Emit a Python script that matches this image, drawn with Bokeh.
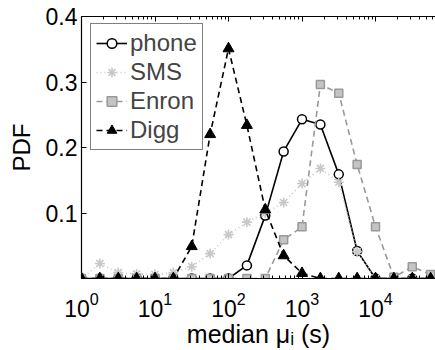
from bokeh.plotting import figure
from bokeh.models import (Range1d, FixedTicker, LogAxis, ColumnDataSource,
                          CustomJSTickFormatter)
from bokeh.embed import file_html
from bokeh.resources import INLINE

# ---- data ----
bin_centers = [1, 1.778, 3.162, 5.623, 10, 17.78, 31.62, 56.23, 100, 177.8,
               316.2, 562.3, 1000, 1778, 3162, 5623, 10000, 17783, 31623, 56234]
phone = [0, 0, 0, 0, 0, 0, 0, 0, 0, 0.020, 0.096, 0.194, 0.243, 0.235, 0.159,
         0.042, 0, 0, 0, 0]
sms = [0, 0.023, 0.009, 0.007, 0.006, 0.009, 0.018, 0.038, 0.067, 0.086, 0.100,
       0.116, 0.145, 0.168, 0.147, 0.041, 0, 0, 0, 0]
enron = [0, 0, 0, 0, 0, 0, 0, 0, 0, 0, 0, 0.059, 0.079, 0.296, 0.283, 0.174,
         0.079, 0.002, 0.018, 0.006]
digg = [0, 0, 0, 0, 0, 0, 0.049, 0.220, 0.351, 0.234, 0.105, 0.035, 0.008, 0,
        0, 0, 0, 0, 0, 0]
x_major_ticks = [1, 10, 100, 1000, 10000]
x_minor_ticks = [m * t for t in x_major_ticks for m in range(2, 10)]
y_ticks = [0.1, 0.2, 0.3, 0.4]
x_label = "median \u03bc\u1d62 (s)"
y_label = "PDF"

FONT = "Liberation Sans"
X_END = 10 ** 4.816

p = figure(width=435, height=350, x_axis_type="log",
           x_range=Range1d(1, X_END), y_range=Range1d(0, 0.4),
           output_backend="svg", toolbar_location=None,
           min_border_left=81, min_border_right=0, min_border_top=16,
           min_border_bottom=71)
p.outline_line_color = None
p.background_fill_color = "white"
p.border_fill_color = "white"
p.grid.visible = False

src = ColumnDataSource(dict(x=bin_centers, phone=phone, sms=sms, enron=enron, digg=digg))

# phone
p.line("x", "phone", source=src, line_color="black", line_width=1.6, legend_label="phone")
p.scatter("x", "phone", source=src, marker="circle", size=9, fill_color="white",
          line_color="black", line_width=1.5, legend_label="phone")
# SMS
p.line("x", "sms", source=src, line_color="#c8c8c8", line_width=1.6, line_dash="1 3",
       legend_label="SMS")
p.scatter("x", "sms", source=src, marker="asterisk", size=10, line_color="#c8c8c8",
          line_width=1.6, legend_label="SMS")
# Enron
p.line("x", "enron", source=src, line_color="#999999", line_width=1.6, line_dash="6 4",
       legend_label="Enron")
p.scatter("x", "enron", source=src, marker="square", size=8, fill_color="#c4c4c4",
          line_color="#999999", line_width=1.5, legend_label="Enron")
# Digg
p.line("x", "digg", source=src, line_color="black", line_width=1.6, line_dash="6 4",
       legend_label="Digg")
p.scatter("x", "digg", source=src, marker="triangle", size=11, fill_color="black",
          line_color="black", legend_label="Digg")

# axes
xa = p.xaxis[0]
xa.ticker = FixedTicker(ticks=x_major_ticks, minor_ticks=x_minor_ticks)
xa.axis_label = x_label
ya = p.yaxis[0]
ya.ticker = FixedTicker(ticks=y_ticks)
ya.axis_label = y_label

for ax in (xa, ya):
    ax.major_tick_in = 5
    ax.major_tick_out = 0
    ax.minor_tick_in = 3
    ax.minor_tick_out = 0
    ax.axis_line_color = "black"
    ax.axis_line_width = 1.2
    ax.major_tick_line_color = "black"
    ax.minor_tick_line_color = "black"
    ax.major_label_text_font = FONT
    ax.major_label_text_font_size = "23px"
    ax.major_label_text_color = "black"
    ax.axis_label_text_font = FONT
    ax.axis_label_text_font_size = "24px"
    ax.axis_label_text_font_style = "normal"
    ax.axis_label_text_color = "black"
ya.minor_tick_line_color = None
ya.major_label_standoff = 4
ya.axis_label_standoff = 8
xa.major_label_standoff = 13
xa.axis_label_standoff = 0
xa.axis_label_text_font_size = "25px"

top = LogAxis(ticker=FixedTicker(ticks=x_major_ticks, minor_ticks=x_minor_ticks),
              formatter=CustomJSTickFormatter(code="return ''"),
              major_tick_in=5, major_tick_out=0,
              minor_tick_in=3, minor_tick_out=0,
              major_label_standoff=0, axis_line_color="black", axis_line_width=1.2)
p.add_layout(top, "above")

lg = p.legend[0]
lg.location = (9, 128)
lg.border_line_color = "black"
lg.border_line_width = 1
lg.background_fill_color = "white"
lg.background_fill_alpha = 1
lg.label_text_font = FONT
lg.label_text_font_size = "24px"
lg.glyph_width = 31
lg.glyph_height = 24
lg.label_height = 24
lg.spacing = 1
lg.padding = 5
lg.label_standoff = 3
lg.margin = 0

open("out.html", "w").write(file_html(p, INLINE))
